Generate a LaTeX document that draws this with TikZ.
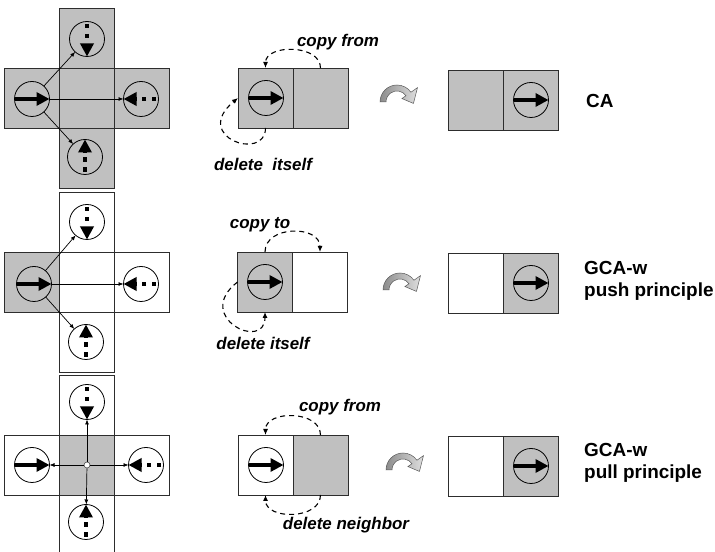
\documentclass[tikz,border=0pt]{standalone}
\usepackage{fontspec}
\setmainfont{Liberation Sans}
\usetikzlibrary{arrows.meta}
\definecolor{cellgray}{RGB}{192,192,192}
\definecolor{edgegray}{RGB}{45,45,45}

\tikzset{
  flowturn/.pic={
    \path[draw=black!65, line width=0.5bp, left color=gray!90, right color=gray!25]
      (180:17) arc[start angle=180, end angle=35, radius=17]
      -- (35:25) -- (-5:16.5) -- (35:6) -- (35:11)
      arc[start angle=35, end angle=180, radius=11] -- cycle;
  }
}

\begin{document}
\begin{tikzpicture}[x=1bp, y=1bp,
  cellbox/.style={draw=edgegray, line width=0.8bp, minimum width=55bp,
    minimum height=60bp, inner sep=0pt, outer sep=0pt},
  graycell/.style={cellbox, fill=cellgray},
  whitecell/.style={cellbox, fill=white},
  agent/.style={circle, draw=black, line width=0.8bp, minimum size=35bp,
    inner sep=0pt, outer sep=0pt},
  hub/.style={circle, draw=black!70, fill=white, line width=0.6bp,
    minimum size=6bp, inner sep=0pt},
  bigarrow/.style={line width=4bp, -{Triangle[length=13bp, width=13bp]}},
  dotarrow/.style={bigarrow, dash pattern=on 4.5bp off 5.5bp, dash phase=7.5bp},
  link/.style={line width=0.7bp, -{Latex[length=5bp, width=4bp]}},
  move/.style={line width=1.1bp, dash pattern=on 5bp off 4bp,
    -{Latex[length=6bp, width=5bp]}},
  note/.style={font=\fontsize{17}{20}\selectfont\bfseries\itshape, inner sep=0pt},
  tag/.style={font=\fontsize{19}{22}\selectfont\bfseries, align=left,
    anchor=west, inner sep=0pt}
]
\useasboundingbox[fill=white] (0,0) rectangle (715,552);

% ---------- row 1: CA ----------
\node[graycell] (a1n) at (87,514) {};
\node[graycell] (a1s) at (87,394) {};
\node[graycell] (a1w) at (32,454) {};
\node[graycell] (a1e) at (142,454) {};
\node[graycell] (a1c) at (87,454) {};
\node[agent] (p1w) at (32,453) {};
\node[agent] (p1n) at (87,513) {};
\node[agent] (p1e) at (141,453) {};
\node[agent] (p1s) at (85,395) {};
\draw[bigarrow] (p1w.west) -- (p1w.east);
\draw[dotarrow] (p1n.north) -- (p1n.south);
\draw[dotarrow] (p1e.east) -- (p1e.west);
\draw[dotarrow] (p1s.south) -- (p1s.north);
\draw[link] (p1w) -- (p1n);
\draw[link] (p1w) -- (p1e);
\draw[link] (p1w) -- (p1s);

\node[graycell] (b1a) at (265.5,454) {};
\node[graycell] (b1b) at (320.5,454) {};
\node[agent] (q1) at (266,454) {};
\draw[bigarrow] (q1.west) -- (q1.east);
\draw[move] (b1b.north) .. controls +(0,24) and +(0,24) .. (b1a.north);
\draw[move] (b1a.south) .. controls +(0,-34) and +(-47,-39) .. (b1a.west);
\node[note] (t1a) at (338,510) {copy from};
\node[note] (t1b) at (263,388) {delete~ itself};

\pic at (397,450) {flowturn};

\node[graycell] (c1a) at (475.5,452) {};
\node[graycell] (c1b) at (530.5,452) {};
\node[agent] (r1) at (531,452) {};
\draw[bigarrow] (r1.west) -- (r1.east);
\node[tag] (l1) at (586,451) {CA};

% ---------- row 2: GCA-w, push ----------
\node[whitecell] (a2n) at (87,330) {};
\node[whitecell] (a2s) at (87,210) {};
\node[whitecell] (a2e) at (142,270) {};
\node[whitecell] (a2c) at (87,270) {};
\node[graycell] (a2w) at (32,270) {};
\node[agent] (p2w) at (34,268) {};
\node[agent] (p2n) at (87,330) {};
\node[agent] (p2e) at (141,268) {};
\node[agent] (p2s) at (86,210) {};
\draw[bigarrow] (p2w.west) -- (p2w.east);
\draw[dotarrow] (p2n.north) -- (p2n.south);
\draw[dotarrow] (p2e.east) -- (p2e.west);
\draw[dotarrow] (p2s.south) -- (p2s.north);
\draw[link] (p2w) -- (p2n);
\draw[link] (p2w) -- (p2e);
\draw[link] (p2w) -- (p2s);

\node[graycell] (b2a) at (265,270) {};
\node[whitecell] (b2b) at (320,270) {};
\node[agent] (q2) at (265,270) {};
\draw[bigarrow] (q2.west) -- (q2.east);
\draw[move] (b2a.north) .. controls +(0,27) and +(0,27) .. (b2b.north);
\draw[move] (b2a.west) .. controls +(-45,-35) and +(0,-40) .. (b2a.south);
\node[note] (t2a) at (260,327) {copy to};
\node[note] (t2b) at (263,209) {delete itself};

\pic at (400,262) {flowturn};

\node[whitecell] (c2a) at (475.5,269) {};
\node[graycell] (c2b) at (530.5,269) {};
\node[agent] (r2) at (531,269) {};
\draw[bigarrow] (r2.west) -- (r2.east);
\node[tag] (l2) at (584,271) {GCA-w\\push principle};

% ---------- row 3: GCA-w, pull ----------
\node[whitecell] (a3n) at (87,147) {};
\node[whitecell] (a3s) at (87,27) {};
\node[whitecell] (a3w) at (32,87) {};
\node[whitecell] (a3e) at (142,87) {};
\node[graycell] (a3c) at (87,87) {};
\node[agent] (p3w) at (32,87) {};
\node[agent] (p3n) at (87,150) {};
\node[agent] (p3e) at (146,87) {};
\node[agent] (p3s) at (86,30) {};
\draw[bigarrow] (p3w.west) -- (p3w.east);
\draw[dotarrow] (p3n.north) -- (p3n.south);
\draw[dotarrow] (p3e.east) -- (p3e.west);
\draw[dotarrow] (p3s.south) -- (p3s.north);
\node[hub] (h3) at (87,87) {};
\draw[link] (h3) -- (p3n);
\draw[link] (h3) -- (p3w);
\draw[link] (h3) -- (p3e);
\draw[link] (h3) -- (p3s);

\node[whitecell] (b3a) at (265.5,87) {};
\node[graycell] (b3b) at (320.5,87) {};
\node[agent] (q3) at (266,87) {};
\draw[bigarrow] (q3.west) -- (q3.east);
\draw[move] (b3b.north) .. controls +(0,25) and +(0,25) .. (b3a.north);
\draw[move] (b3b.south) .. controls +(0,-25) and +(0,-25) .. (b3a.south);
\node[note] (t3a) at (340,145) {copy from};
\node[note] (t3b) at (346,27) {delete neighbor};

\pic at (403,82) {flowturn};

\node[whitecell] (c3a) at (475.5,86) {};
\node[graycell] (c3b) at (530.5,86) {};
\node[agent] (r3) at (531,86) {};
\draw[bigarrow] (r3.west) -- (r3.east);
\node[tag] (l3) at (584,89) {GCA-w\\pull principle};
\end{tikzpicture}
\end{document}
